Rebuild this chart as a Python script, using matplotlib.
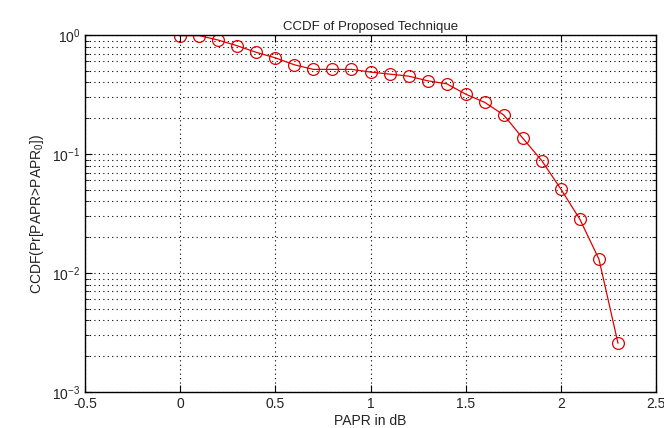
import matplotlib
matplotlib.use("Agg")
import matplotlib.pyplot as plt
from matplotlib.ticker import LogLocator, FixedLocator, NullFormatter

papr_db = [0.0, 0.1, 0.2, 0.3, 0.4, 0.5, 0.6, 0.7, 0.8, 0.9, 1.0, 1.1,
           1.2, 1.3, 1.4, 1.5, 1.6, 1.7, 1.8, 1.9, 2.0, 2.1, 2.2, 2.3]
ccdf = [0.99, 0.99, 0.908, 0.813, 0.716, 0.644, 0.563, 0.515, 0.515, 0.515,
        0.489, 0.470, 0.452, 0.413, 0.390, 0.319, 0.272, 0.213, 0.136, 0.0879,
        0.0508, 0.0283, 0.0131, 0.00258]
x_ticks = [-0.5, 0, 0.5, 1, 1.5, 2, 2.5]
x_tick_labels = ["-0.5", "0", "0.5", "1", "1.5", "2", "2.5"]
y_ticks = [1e-3, 1e-2, 1e-1, 1]
y_tick_labels = ["10$^{-3}$", "10$^{-2}$", "10$^{-1}$", "10$^{0}$"]

plt.rcParams['font.family'] = ['Liberation Sans', 'DejaVu Sans']
plt.rcParams['mathtext.fontset'] = 'custom'
plt.rcParams['mathtext.rm'] = 'Liberation Sans'
plt.rcParams['mathtext.it'] = 'Liberation Sans'
plt.rcParams['axes.unicode_minus'] = False

fig = plt.figure(figsize=(6.64, 4.28), dpi=100)
ax = fig.add_axes([0.128, 0.084, 0.86, 0.834])

ax.semilogy(papr_db, ccdf, '-o', color='#e00000', lw=0.9,
            markersize=8.5, markerfacecolor='none', markeredgewidth=0.9)

ax.set_xlim(-0.5, 2.5)
ax.set_ylim(1e-3, 1)
ax.xaxis.set_major_locator(FixedLocator(x_ticks))
ax.set_xticklabels(x_tick_labels)
ax.yaxis.set_major_locator(FixedLocator(y_ticks))
ax.set_yticklabels(y_tick_labels)
ax.yaxis.set_minor_locator(LogLocator(base=10, subs=range(2, 10), numticks=20))
ax.yaxis.set_minor_formatter(NullFormatter())

ax.grid(True, which='major', axis='both', linestyle=(0, (1, 3)), color='black', lw=0.8)
ax.grid(True, which='minor', axis='y', linestyle=(0, (1, 3)), color='black', lw=0.8)

ax.tick_params(which='both', direction='in', top=True, right=True,
               labelsize=10, labelcolor='#222222')
ax.tick_params(which='major', length=5)
ax.tick_params(which='minor', length=3)
for s in ax.spines.values():
    s.set_linewidth(1.0)

ax.set_title("CCDF of Proposed Technique", fontsize=9.5, pad=4, color='#222222')
ax.set_xlabel("PAPR in dB", fontsize=10, labelpad=2, color='#222222')
ax.set_ylabel("CCDF(Pr[PAPR>PAPR$_0$])", fontsize=10, labelpad=4, color='#222222')

fig.savefig("out.png", dpi=100)
